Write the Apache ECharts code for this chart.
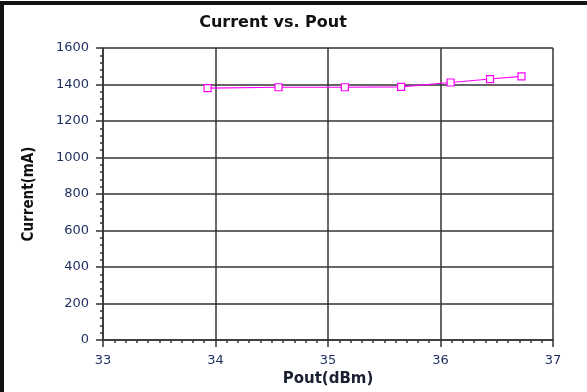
<!DOCTYPE html>
<html><head><meta charset="utf-8">
<script src="https://cdn.jsdelivr.net/npm/echarts@6/dist/echarts.min.js"></script>
<style>html,body{margin:0;padding:0;background:#fff}#c{width:587px;height:392px}</style>
</head><body><div id="c"></div>
<script>
var titleText = 'Current vs. Pout';
var xName = 'Pout(dBm)';
var yName = 'Current(mA)';
var poutValues = [33.93, 34.56, 35.15, 35.65, 36.09, 36.44, 36.72];
var currentValues = [1380, 1385, 1385, 1387, 1411, 1430, 1445];
var xTicks = [33, 34, 35, 36, 37];
var yTicks = [0, 200, 400, 600, 800, 1000, 1200, 1400, 1600];

var chart = echarts.init(document.getElementById('c'), null, {renderer: 'canvas'});
var labelColor = '#1c2d5e';
var gridColor = '#333';
chart.setOption({
  animation: false,
  backgroundColor: '#fff',
  title: {text: titleText, left: 268, top: 10, textAlign: 'center',
    textStyle: {fontFamily: 'DejaVu Sans', fontWeight: 'bold', fontSize: 16, color: '#111'}},
  graphic: [
    {type: 'rect', shape: {x: 2, y: 3, width: 600, height: 400}, style: {fill: 'none', stroke: '#111', lineWidth: 4}, silent: true}
  ],
  grid: {left: 103, right: 34, top: 48, bottom: 49},
  xAxis: {
    type: 'value', min: xTicks[0], max: xTicks[xTicks.length - 1], interval: 1,
    name: xName, nameLocation: 'middle', nameGap: 32,
    nameTextStyle: {fontFamily: 'DejaVu Sans', fontWeight: 'bold', fontSize: 15, color: '#1a1f33'},
    axisLine: {show: true, lineStyle: {color: gridColor, width: 1.5}},
    axisTick: {show: true, inside: false, length: 7, lineStyle: {color: gridColor, width: 1.5}},
    minorTick: {show: true, splitNumber: 10, length: 3, lineStyle: {color: gridColor, width: 1.5}},
    axisLabel: {fontFamily: 'DejaVu Sans', fontSize: 13, color: labelColor, margin: 14},
    splitLine: {show: true, lineStyle: {color: gridColor, width: 1.5}}
  },
  yAxis: {
    type: 'value', min: yTicks[0], max: yTicks[yTicks.length - 1], interval: 200,
    name: yName, nameLocation: 'middle', nameGap: 66,
    nameTextStyle: {fontFamily: 'DejaVu Sans Condensed, DejaVu Sans', fontWeight: 'bold', fontSize: 15, color: '#111'},
    axisLine: {show: true, lineStyle: {color: gridColor, width: 1.5}},
    axisTick: {show: true, inside: false, length: 7, lineStyle: {color: gridColor, width: 1.5}},
    minorTick: {show: true, splitNumber: 5, length: 3, lineStyle: {color: gridColor, width: 1.5}},
    axisLabel: {fontFamily: 'DejaVu Sans', fontSize: 13, color: labelColor, margin: 14,
      formatter: function (v) { return String(v); }},
    splitLine: {show: true, lineStyle: {color: gridColor, width: 1.5}}
  },
  series: [{
    type: 'line',
    data: poutValues.map(function (x, i) { return [x, currentValues[i]]; }),
    symbol: 'rect', symbolSize: 7, showAllSymbol: true,
    itemStyle: {color: '#fff', borderColor: '#ff00ff', borderWidth: 1.2},
    lineStyle: {color: '#ff00ff', width: 1.2}
  }]
});
</script></body></html>
